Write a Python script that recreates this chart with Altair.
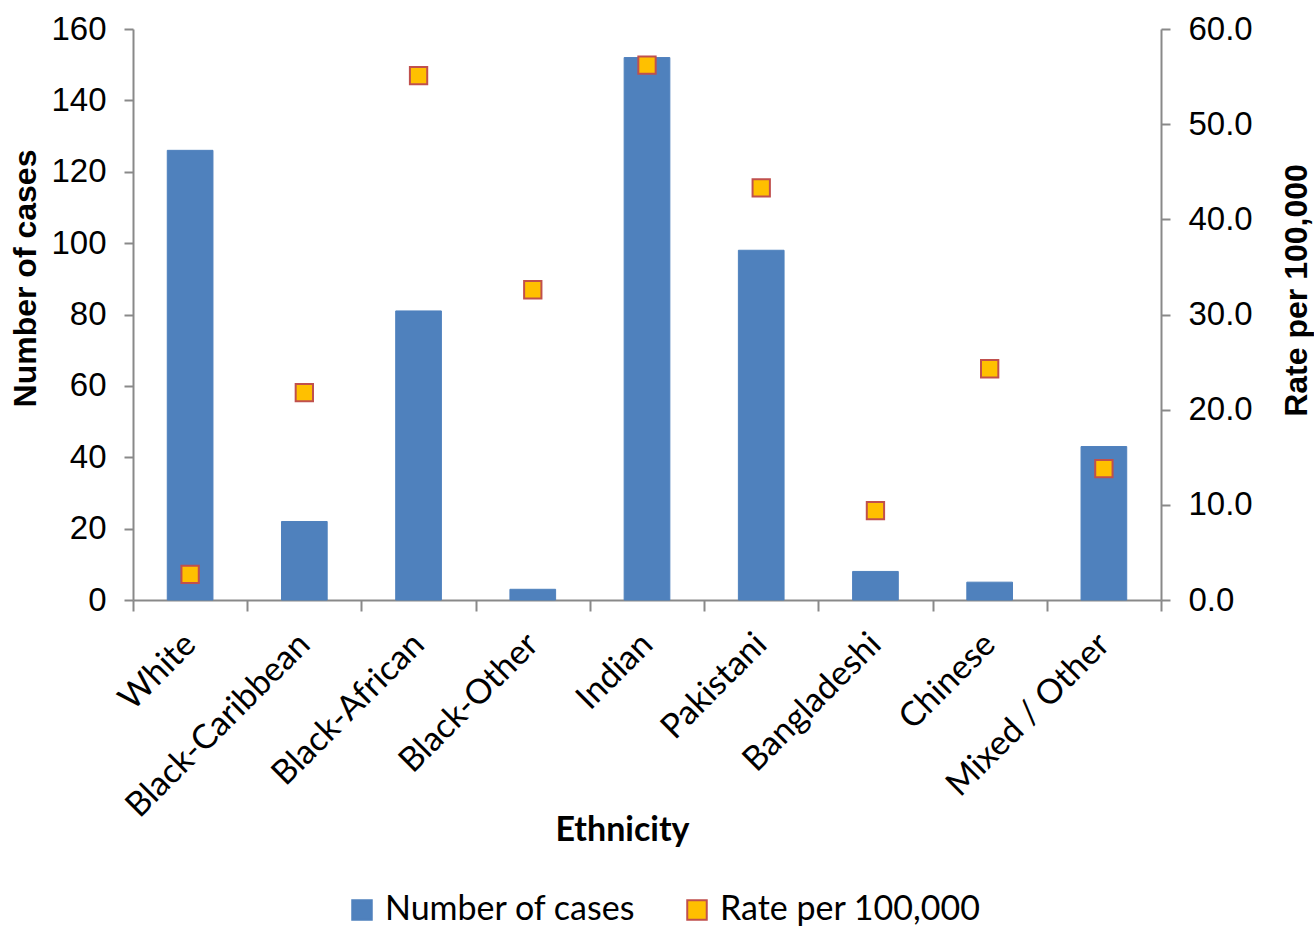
import altair as alt
import pandas as pd

# Cases and rates by ethnic group
ethnicity = ["White", "Black-Caribbean", "Black-African", "Black-Other", "Indian",
             "Pakistani", "Bangladeshi", "Chinese", "Mixed / Other"]
cases = [126, 22, 81, 3, 152, 98, 8, 5, 43]
rates = [2.7, 21.8, 55.1, 32.6, 56.2, 43.3, 9.4, 24.3, 13.8]

series_names = ["Number of cases", "Rate per 100,000"]
fill_colors = ["#4F81BD", "#FFC000"]
stroke_colors = ["#4F81BD", "#C0504D"]

bars_df = pd.DataFrame({"Ethnicity": ethnicity, "cases": cases, "series": series_names[0]})
pts_df = pd.DataFrame({"Ethnicity": ethnicity, "rate": rates, "series": series_names[1]})

TICK_FONT = "Liberation Sans"
CAT_FONT = "Lato"
AXIS_GREY = "#898989"

x_enc = alt.X(
    "Ethnicity:N",
    sort=ethnicity,
    scale=alt.Scale(paddingInner=0, paddingOuter=0),
    axis=alt.Axis(
        title="Ethnicity",
        titleFont=CAT_FONT, titleFontSize=34, titleFontWeight="bold", titleColor="#000000",
        titleX=489, titleY=230, titleBaseline="middle", titleAlign="center",
        labelFont=CAT_FONT, labelFontSize=34, labelColor="#000000", labelLimit=0,
        labelAngle=315, labelAlign="right", labelBaseline="middle", labelPadding=28,
        tickBand="extent", tickSize=11, tickColor=AXIS_GREY, tickWidth=2,
        domainColor=AXIS_GREY, domainWidth=2,
    ),
)

fill_scale = alt.Scale(domain=series_names, range=fill_colors)
stroke_scale = alt.Scale(domain=series_names, range=stroke_colors)

legend = alt.Legend(
    title=None, orient="none", direction="horizontal",
    legendX=212, legendY=864,
    symbolType="square", symbolSize=380, symbolStrokeWidth=2,
    labelFont=CAT_FONT, labelFontSize=34, labelColor="#000000", labelLimit=0,
    labelOffset=6, columnPadding=44,
)

bars = alt.Chart(bars_df).mark_bar(
    width=alt.RelativeBandSize(0.4), strokeWidth=1
).encode(
    x=x_enc,
    y=alt.Y(
        "cases:Q",
        scale=alt.Scale(domain=[0, 160], nice=False),
        axis=alt.Axis(
            title="Number of cases", orient="left",
            values=list(range(0, 161, 20)),
            titleFont=TICK_FONT, titleFontSize=32, titleFontWeight="bold", titleColor="#000000",
            titleAngle=270, titleX=-108, titleY=249, titleBaseline="middle", titleAlign="center",
            labelFont=TICK_FONT, labelFontSize=33, labelColor="#000000", labelPadding=18,
            tickSize=9, tickColor=AXIS_GREY, tickWidth=2,
            domainColor=AXIS_GREY, domainWidth=2, grid=False,
        ),
    ),
    fill=alt.Fill("series:N", scale=fill_scale, legend=legend),
    stroke=alt.Stroke("series:N", scale=stroke_scale, legend=legend),
)

points = alt.Chart(pts_df).mark_point(
    shape="square", size=300, filled=True, opacity=1, strokeWidth=2
).encode(
    x=alt.X("Ethnicity:N", sort=ethnicity),
    y=alt.Y(
        "rate:Q",
        scale=alt.Scale(domain=[0, 60], nice=False),
        axis=alt.Axis(
            title="Rate per 100,000", orient="right",
            values=list(range(0, 61, 10)), format=".1f",
            titleFont=TICK_FONT, titleFontSize=32, titleFontWeight="bold", titleColor="#000000",
            titleAngle=270, titleX=135, titleY=261, titleBaseline="middle", titleAlign="center",
            labelFont=TICK_FONT, labelFontSize=33, labelColor="#000000", labelPadding=18,
            tickSize=9, tickColor=AXIS_GREY, tickWidth=2,
            domainColor=AXIS_GREY, domainWidth=2, grid=False,
        ),
    ),
    fill=alt.Fill("series:N", scale=fill_scale, legend=legend),
    stroke=alt.Stroke("series:N", scale=stroke_scale, legend=legend),
)

chart = alt.layer(bars, points).resolve_scale(y="independent").properties(
    width=1028,
    height=571,
    autosize=alt.AutoSizeParams(type="none"),
    padding={"left": 133, "top": 29, "right": 153, "bottom": 327},
    background="#FFFFFF",
).configure_view(stroke=None)

chart.save("out.html", embed_options={"renderer": "svg", "actions": False})
